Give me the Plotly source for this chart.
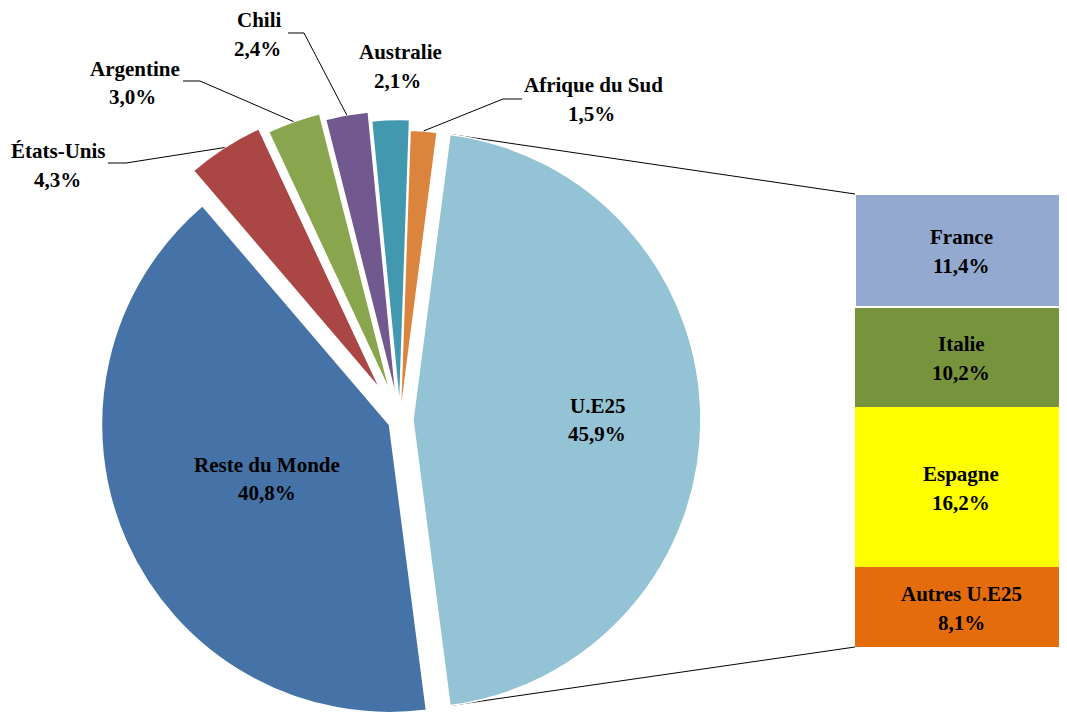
import math
import plotly.graph_objects as go

# window size and page offset (default body margin)
W, H = 1067, 713
OFF = 8
FW, FH = W - OFF, H - OFF

# ---- data ----
pie_labels = ["U.E25", "Reste du Monde", "États-Unis", "Argentine", "Chili", "Australie", "Afrique du Sud"]
pie_values = [45.9, 40.8, 4.3, 3.0, 2.4, 2.1, 1.5]
pie_colors = ["#93C3D5", "#4572A7", "#AA4643", "#89A54E", "#71588F", "#4198AF", "#DB843D"]

eu_labels = ["France", "Italie", "Espagne", "Autres U.E25"]
eu_values = [11.4, 10.2, 16.2, 8.1]
eu_colors = ["#93A9CF", "#77933C", "#FFFF00", "#E46C0A"]

FONT = "Liberation Serif"
FS = 21


def fr(v):
    return f"{v:.1f}".replace(".", ",") + "%"


def px(x, y):
    """window pixel -> paper coords"""
    return (x - OFF) / FW, 1 - (y - OFF) / FH


# ---- pie geometry (style) ----
CX, CY, R = 400, 420, 288
pulls = [0.045, 0.04, 0.125, 0.10, 0.075, 0.043, 0.007]
total = sum(pie_values)
rotation = 90 - pie_values[0] / total * 180

starts, mids, ends = [], [], []
cum = 0.0
for v in pie_values:
    s = rotation + 360 * cum / total
    cum += v
    e = rotation + 360 * cum / total
    starts.append(s); ends.append(e); mids.append((s + e) / 2)


def dirv(a):
    r = math.radians(a)
    return math.sin(r), -math.cos(r)


centers = []
for i in range(len(pie_values)):
    dx, dy = dirv(mids[i])
    centers.append((CX + pulls[i] * R * dx, CY + pulls[i] * R * dy))

fig = go.Figure()
n = len(pie_values)
for i in range(n):
    cols = ["rgba(0,0,0,0)"] * n
    cols[i] = pie_colors[i]
    lw = [0] * n
    lw[i] = 1.5
    cx, cy = centers[i]
    x0, y1 = px(cx - R, cy - R)
    x1, y0 = px(cx + R, cy + R)
    fig.add_trace(go.Pie(
        values=pie_values, labels=pie_labels, sort=False, direction="clockwise",
        rotation=rotation, textinfo="none", hoverinfo="label+percent",
        marker=dict(colors=cols, line=dict(color="white", width=lw)),
        domain=dict(x=[max(0, x0), min(1, x1)], y=[max(0, y0), min(1, y1)]),
        showlegend=False,
    ))

# ---- stacked bar of U.E25 breakdown ----
BAR_LEFT = 855
BAR_TOP, BAR_BOT = 194, 647
bx0, by_top = px(BAR_LEFT, BAR_TOP)
_, by_bot = px(BAR_LEFT, BAR_BOT)
for lab, v, c in reversed(list(zip(eu_labels, eu_values, eu_colors))):
    fig.add_trace(go.Bar(
        x=[0], y=[v], width=1, name=lab, showlegend=False,
        marker=dict(color=c, line=dict(color="white", width=2 if lab == "France" else 0)),
        hoverinfo="name+y",
    ))

annotations = []
cum = 0.0
for lab, v in reversed(list(zip(eu_labels, eu_values))):
    mid = cum + v / 2
    cum += v
    for txt, sh in ((lab, 13), (fr(v), -16)):
        annotations.append(dict(
            x=0, y=mid, xref="x", yref="y", text=f"<b>{txt}</b>", showarrow=False,
            yshift=sh, xanchor="center", yanchor="middle",
            font=dict(family=FONT, size=FS, color="black"),
        ))

# pie labels inside big slices
inside_k = {0: 0.64, 1: 0.466}
for i, k in inside_k.items():
    dx, dy = dirv(mids[i])
    lx = centers[i][0] + k * R * dx
    ly = centers[i][1] + k * R * dy
    for txt, off in ((pie_labels[i], -14), (fr(pie_values[i]), 14)):
        xp, yp = px(lx, ly + off)
        annotations.append(dict(
            x=xp, y=yp, xref="paper", yref="paper", text=f"<b>{txt}</b>", showarrow=False,
            xanchor="center", yanchor="middle", font=dict(family=FONT, size=FS, color="black"),
        ))

# outside label placement (window pixels): name centre, value centre
outside_pos = {
    2: ((58, 151), (57, 180)),
    3: ((135, 69), (132, 97)),
    4: ((259, 20), (257, 49)),
    5: ((400, 52), (397, 81)),
    6: ((593, 85), (591, 114)),
}
for i, ((nx, ny), (vx, vy)) in outside_pos.items():
    for txt, (tx, ty) in ((pie_labels[i], (nx, ny)), (fr(pie_values[i]), (vx, vy))):
        xp, yp = px(tx, ty)
        annotations.append(dict(
            x=xp, y=yp, xref="paper", yref="paper", text=f"<b>{txt}</b>", showarrow=False,
            xanchor="center", yanchor="middle", font=dict(family=FONT, size=FS, color="black"),
        ))

shapes = []
# leader lines: label end -> elbow -> arc midpoint of slice
leaders = {
    2: ((108, 163), (126, 163)),
    3: ((183, 81), (200, 81)),
    4: ((288, 33), (304, 33)),
    6: ((522, 99), (503, 99)),
}
for i, (p0, p1) in leaders.items():
    dx, dy = dirv(mids[i])
    ax_, ay_ = centers[i][0] + R * dx, centers[i][1] + R * dy
    pts = [px(*p0), px(*p1), px(ax_, ay_)]
    path = "M {:.5f},{:.5f} L {:.5f},{:.5f} L {:.5f},{:.5f}".format(*[c for p in pts for c in p])
    shapes.append(dict(type="path", path=path, xref="paper", yref="paper",
                       line=dict(color="black", width=1)))

# connector lines from U.E25 slice to bar
ue_c = centers[0]
for ang, byp in ((starts[0], by_top), (ends[0], by_bot)):
    dx, dy = dirv(ang)
    x0p, y0p = px(ue_c[0] + R * dx, ue_c[1] + R * dy)
    shapes.append(dict(type="line", xref="paper", yref="paper", x0=x0p, y0=y0p,
                       x1=bx0, y1=byp, layer="below",
                       line=dict(color="black", width=1)))

fig.update_layout(
    width=FW, height=FH, margin=dict(l=0, r=0, t=0, b=0),
    paper_bgcolor="white", plot_bgcolor="white", showlegend=False,
    barmode="stack",
    xaxis=dict(domain=[bx0, 1], range=[-0.5, 0.5], visible=False, fixedrange=True),
    yaxis=dict(domain=[by_bot, by_top], range=[0, sum(eu_values)],
               visible=False, fixedrange=True),
    annotations=annotations, shapes=shapes,
)

fig.write_html("out.html")
